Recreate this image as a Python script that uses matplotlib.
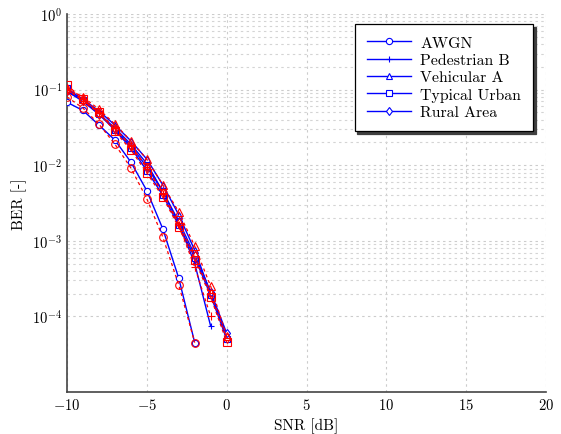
#!/usr/bin/env python

import numpy as np
import matplotlib
matplotlib.use("Agg")
import matplotlib.pyplot as plt
from matplotlib.ticker import FixedLocator

plt.rcParams['font.family'] = 'cmr10'
plt.rcParams['mathtext.fontset'] = 'cm'
plt.rcParams['axes.formatter.use_mathtext'] = True

# SNR points
snr_awgn = [-10, -9, -8, -7, -6, -5, -4, -3, -2]
snr_pedb = [-10, -9, -8, -7, -6, -5, -4, -3, -2, -1]
snr_full = [-10, -9, -8, -7, -6, -5, -4, -3, -2, -1, 0]

# blue (solid) curves
awgn_b = [0.068, 0.053, 0.034, 0.0215, 0.011, 0.0046, 0.00144, 0.00032, 4.5e-5]
pedb_b = [0.095, 0.072, 0.048, 0.031, 0.019, 0.0105, 0.0045, 0.0017, 5.0e-4, 7.4e-5]
veha_b = [0.100, 0.075, 0.052, 0.034, 0.021, 0.012, 0.0055, 0.0022, 7.5e-4, 2.0e-4, 5.5e-5]
tu_b = [0.105, 0.072, 0.048, 0.029, 0.017, 0.0085, 0.0040, 0.0016, 6.0e-4, 1.9e-4, 5.0e-5]
ra_b = [0.095, 0.070, 0.047, 0.030, 0.018, 0.0095, 0.0045, 0.0018, 6.5e-4, 2.1e-4, 6.0e-5]

# red (dashed) curves
awgn_r = [0.080, 0.057, 0.035, 0.019, 0.0092, 0.0036, 0.00112, 0.00026, 4.5e-5]
pedb_r = [0.100, 0.075, 0.050, 0.031, 0.018, 0.0095, 0.0042, 0.0016, 4.5e-4, 1.0e-4]
veha_r = [0.105, 0.080, 0.055, 0.035, 0.021, 0.012, 0.0055, 0.0024, 8.5e-4, 2.5e-4, 5.5e-5]
tu_r = [0.115, 0.075, 0.050, 0.028, 0.016, 0.0079, 0.0038, 0.0015, 5.6e-4, 1.8e-4, 4.6e-5]
ra_r = [0.100, 0.072, 0.048, 0.030, 0.018, 0.0092, 0.0043, 0.0017, 6.2e-4, 2.0e-4, 5.2e-5]

labels = ["AWGN", "Pedestrian B", "Vehicular A", "Typical Urban", "Rural Area"]
markers = ["o", "+", "^", "s", "d"]
xs = [snr_awgn, snr_pedb, snr_full, snr_full, snr_full]
blue = [awgn_b, pedb_b, veha_b, tu_b, ra_b]
red = [awgn_r, pedb_r, veha_r, tu_r, ra_r]

fig = plt.figure(figsize=(5.61, 4.35), dpi=100)
ax = fig.add_axes([0.1194, 0.0966, 0.8539, 0.8689])

for x, b, m, lab in zip(xs, blue, markers, labels):
    ax.semilogy(x, b, color='blue', lw=1.0, marker=m, ms=4.5, mfc='white',
                mec='blue', mew=0.8, label=lab, zorder=3)
for x, r, m in zip(xs, red, markers):
    ax.semilogy(x, r, color='red', lw=0.9, ls=(0, (2.5, 2.5)), marker=m, ms=5.5,
                mfc='none', mec='red', mew=0.8, zorder=4)

ax.set_xlim(-10, 20)
ax.set_ylim(1e-5, 1e0)
ax.set_xticks([-10, -5, 0, 5, 10, 15, 20])
ax.set_yticks([1e0, 1e-1, 1e-2, 1e-3, 1e-4])
# minor grid only from 1e-4 upwards
minor = [k * 10.0 ** e for e in range(-4, 0) for k in range(2, 10)]
ax.yaxis.set_minor_locator(FixedLocator(minor))
ax.grid(True, which='major', ls=(0, (2.2, 3.0)), color='#cccccc', lw=0.8)
ax.grid(True, which='minor', axis='y', ls=(0, (2.2, 3.0)), color='#d4d4d4', lw=0.8)
ax.tick_params(which='both', direction='in', length=0, labelsize=10.5)
for s in ['top', 'right']:
    ax.spines[s].set_visible(False)
for s in ['left', 'bottom']:
    ax.spines[s].set_color('#444444')
    ax.spines[s].set_linewidth(1.2)

ax.set_xlabel("SNR [dB]", fontsize=11, labelpad=4)
ax.set_ylabel("BER [-]", fontsize=11, labelpad=4)

leg = ax.legend(loc='upper right', bbox_to_anchor=(0.973, 0.9735), borderaxespad=0,
                fancybox=False, shadow={'color': '#404040', 'alpha': 1},
                edgecolor='black', framealpha=1, fontsize=11.4,
                handlelength=2.8, handletextpad=0.6,
                borderpad=0.75, labelspacing=0.2)
leg.get_frame().set_linewidth(0.9)

fig.savefig("out.png", dpi=100)
